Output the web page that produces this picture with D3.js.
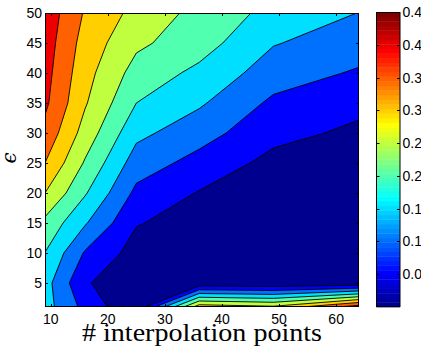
<!DOCTYPE html>
<html>
<head>
<meta charset="utf-8">
<script src="https://cdn.jsdelivr.net/npm/d3@7"></script>
<style>
  html, body { margin: 0; padding: 0; background: #fff; overflow: hidden; }
  svg { display: block; }
</style>
</head>
<body>
<script>
// Grid of the error surface: number of interpolation points (x) by epsilon (y)
const interpPoints = [9, 16, 25, 36, 49, 64];
const epsValues = [1, 5, 10, 15, 20, 25, 30, 35, 40, 45, 50];

// Error for each epsilon (same order as epsValues), one array per point count
const errN9  = [0.170, 0.170, 0.199, 0.237, 0.300, 0.350, 0.385, 0.410, 0.418, 0.425, 0.432];
const errN16 = [0.085, 0.055, 0.095, 0.155, 0.205, 0.245, 0.280, 0.305, 0.318, 0.330, 0.345];
const errN25 = [0.005, 0.015, 0.030, 0.053, 0.088, 0.125, 0.163, 0.200, 0.230, 0.260, 0.2845];
const errN36 = [0.330, 0.010, 0.020, 0.030, 0.047, 0.083, 0.120, 0.157, 0.188, 0.222, 0.2345];
const errN49 = [0.310, 0.005, 0.008, 0.015, 0.025, 0.035, 0.065, 0.090, 0.125, 0.153, 0.185];
const errN64 = [0.430, 0.010, 0.012, 0.016, 0.022, 0.030, 0.040, 0.063, 0.094, 0.125, 0.149];

const contourLevels = [0.05, 0.10, 0.15, 0.20, 0.25, 0.30, 0.35, 0.40];
const xTicks = [10, 20, 30, 40, 50, 60];
const yTicks = [5, 10, 15, 20, 25, 30, 35, 40, 45, 50];
const colorTicks = [0.05, 0.10, 0.15, 0.20, 0.25, 0.30, 0.35, 0.40, 0.45];
const colorLimits = [0, 0.45];

const columns = [errN9, errN16, errN25, errN36, errN49, errN64];

// MATLAB-style jet colormap with 64 entries
function jetRow(i) {
  let r, g, b;
  if (i <= 24) r = 0; else if (i <= 40) r = (i - 24) / 16; else if (i <= 56) r = 1; else r = 1 - (i - 56) / 16;
  if (i <= 8) g = 0; else if (i <= 24) g = (i - 8) / 16; else if (i <= 40) g = 1; else if (i <= 56) g = 1 - (i - 40) / 16; else g = 0;
  if (i <= 8) b = (i + 8) / 16; else if (i <= 24) b = 1; else if (i <= 40) b = 1 - (i - 24) / 16; else b = 0;
  return d3.rgb(r * 255, g * 255, b * 255).formatHex();
}
function jet(v) {
  const i = Math.max(1, Math.min(64, Math.floor((v - colorLimits[0]) / (colorLimits[1] - colorLimits[0]) * 64) + 1));
  return jetRow(i);
}

const W = 421, H = 349;
const plot = { left: 45, right: 359, top: 13, bottom: 307 };
const cbar = { left: 376.5, right: 400, top: 12, bottom: 307 };

const svg = d3.select("body").append("svg").attr("width", W).attr("height", H);

const x = d3.scaleLinear().domain([9, 64]).range([plot.left, plot.right]);
const y = d3.scaleLinear().domain([1, 50]).range([plot.bottom, plot.top]);

// Flatten to row-major grid (row = epsilon index) for d3.contours
const nx = interpPoints.length, ny = epsValues.length;
const grid = new Array(nx * ny);
for (let r = 0; r < ny; r++) for (let c = 0; c < nx; c++) grid[r * nx + c] = columns[c][r];

const contours = d3.contours().size([nx, ny]).thresholds(contourLevels)(grid);

// Contour coordinates put sample i at i + 0.5; map them onto the data axes
function gridToData(coord, values) {
  const n = values.length;
  const g = Math.max(0, Math.min(n - 1, coord - 0.5));
  const i = Math.min(Math.floor(g), n - 2);
  const t = g - i;
  return values[i] + t * (values[i + 1] - values[i]);
}
const projection = d3.geoTransform({
  point(px, py) {
    this.stream.point(x(gridToData(px, interpPoints)), y(gridToData(py, epsValues)));
  }
});
const path = d3.geoPath(projection);

svg.append("clipPath").attr("id", "plot-clip")
  .append("rect")
  .attr("x", plot.left).attr("y", plot.top)
  .attr("width", plot.right - plot.left).attr("height", plot.bottom - plot.top);

const field = svg.append("g").attr("clip-path", "url(#plot-clip)");
field.append("rect")
  .attr("x", plot.left).attr("y", plot.top)
  .attr("width", plot.right - plot.left).attr("height", plot.bottom - plot.top)
  .attr("fill", jet(0));

field.selectAll("path.band")
  .data(contours)
  .join("path")
  .attr("class", "band")
  .attr("d", path)
  .attr("fill", d => jet(d.value))
  .attr("stroke", "#000")
  .attr("stroke-width", 0.9)
  .attr("stroke-linejoin", "round");

// Axes box and inward ticks on all four sides
const axes = svg.append("g").attr("fill", "none").attr("stroke", "#000").attr("stroke-width", 1);
axes.append("rect")
  .attr("x", plot.left + 0.5).attr("y", plot.top + 0.5)
  .attr("width", plot.right - plot.left - 1).attr("height", plot.bottom - plot.top - 1);
const tickLen = 3;
xTicks.forEach(t => {
  const px = Math.round(x(t)) + 0.5;
  axes.append("line").attr("x1", px).attr("x2", px).attr("y1", plot.bottom).attr("y2", plot.bottom - tickLen);
  axes.append("line").attr("x1", px).attr("x2", px).attr("y1", plot.top).attr("y2", plot.top + tickLen);
});
yTicks.forEach(t => {
  const py = Math.round(y(t)) + 0.5;
  axes.append("line").attr("x1", plot.left).attr("x2", plot.left + tickLen).attr("y1", py).attr("y2", py);
  axes.append("line").attr("x1", plot.right).attr("x2", plot.right - tickLen).attr("y1", py).attr("y2", py);
});

const sans = "'Liberation Sans', Arial, Helvetica, sans-serif";
const labels = svg.append("g").attr("font-family", sans).attr("font-size", 14).attr("fill", "#000");
labels.selectAll("text.xt").data(xTicks).join("text")
  .attr("class", "xt")
  .attr("x", d => x(d)).attr("y", 324)
  .attr("text-anchor", "middle")
  .text(d => d);
labels.selectAll("text.yt").data(yTicks).join("text")
  .attr("class", "yt")
  .attr("x", 42).attr("y", d => y(d) + 5)
  .attr("text-anchor", "end")
  .text(d => d);

// Axis titles
svg.append("text")
  .attr("x", 202).attr("y", 341)
  .attr("text-anchor", "middle")
  .attr("font-family", "'Liberation Serif', 'Times New Roman', serif")
  .attr("font-size", 25)
  .attr("textLength", 240)
  .attr("lengthAdjust", "spacingAndGlyphs")
  .text("# interpolation points");

svg.append("text")
  .attr("transform", "translate(16,158) rotate(-90)")
  .attr("text-anchor", "middle")
  .attr("font-family", "'DejaVu Serif', 'Liberation Serif', serif")
  .attr("font-style", "italic")
  .attr("font-size", 20)
  .text("ϵ");

// Colorbar
const cy = d3.scaleLinear().domain(colorLimits).range([cbar.bottom, cbar.top]);
const cb = svg.append("g");
const steps = d3.range(64);
cb.selectAll("rect.step").data(steps).join("rect")
  .attr("class", "step")
  .attr("x", cbar.left)
  .attr("width", cbar.right - cbar.left)
  .attr("y", i => cy(colorLimits[0] + (i + 1) / 64 * (colorLimits[1] - colorLimits[0])))
  .attr("height", i => cy(colorLimits[0] + i / 64 * (colorLimits[1] - colorLimits[0])) - cy(colorLimits[0] + (i + 1) / 64 * (colorLimits[1] - colorLimits[0])) + 0.4)
  .attr("fill", i => jetRow(i + 1));
cb.append("rect")
  .attr("x", cbar.left).attr("y", cbar.top + 0.5)
  .attr("width", cbar.right - cbar.left).attr("height", cbar.bottom - cbar.top - 1)
  .attr("fill", "none").attr("stroke", "#000").attr("stroke-width", 1);
colorTicks.forEach(t => {
  const py = Math.round(cy(t)) + 0.5;
  cb.append("line").attr("x1", cbar.left).attr("x2", cbar.left + 3).attr("y1", py).attr("y2", py).attr("stroke", "#000");
  cb.append("line").attr("x1", cbar.right).attr("x2", cbar.right - 3).attr("y1", py).attr("y2", py).attr("stroke", "#000");
});
cb.selectAll("text.ct").data(colorTicks).join("text")
  .attr("class", "ct")
  .attr("x", 402.5).attr("y", d => cy(d) + 5)
  .attr("font-family", sans).attr("font-size", 14)
  .text(d => d3.format("")(+d.toFixed(2)));
</script>
</body>
</html>
